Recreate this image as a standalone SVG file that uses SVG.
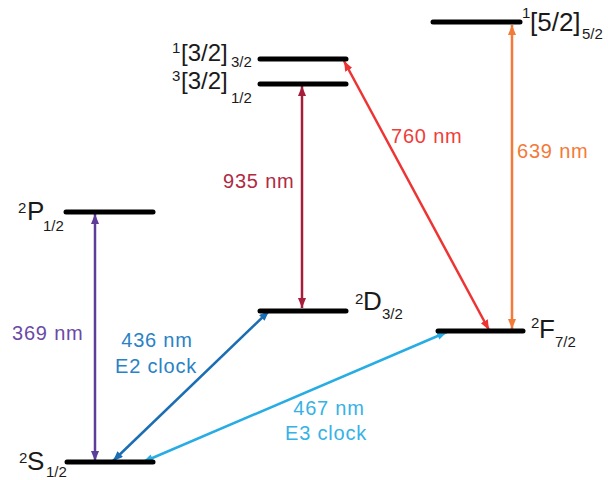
<svg xmlns="http://www.w3.org/2000/svg" width="608" height="480" viewBox="0 0 608 480">
<style>
.lvl{stroke:#000;stroke-width:5;stroke-linecap:round;fill:none}
.lbl{font-family:"Liberation Sans",Arial,sans-serif;fill:#1a1a1a}
.main{font-size:26px}
.mid{font-size:24px}
.sm{font-size:15px}
.wl{font-family:"Liberation Sans",Arial,sans-serif;font-size:20px;letter-spacing:0.8px}
.ar{stroke-width:2.5;fill:none}
</style>
<defs>
<marker id="mPurple" viewBox="0 0 10 8" refX="10" refY="4" markerWidth="10" markerHeight="8" markerUnits="userSpaceOnUse" orient="auto-start-reverse"><path d="M0,0 L10,4 L0,8 z" fill="#5e3c99"/></marker>
<marker id="mDark" viewBox="0 0 10 8" refX="10" refY="4" markerWidth="10" markerHeight="8" markerUnits="userSpaceOnUse" orient="auto-start-reverse"><path d="M0,0 L10,4 L0,8 z" fill="#a51f3b"/></marker>
<marker id="mRed" viewBox="0 0 10 8" refX="10" refY="4" markerWidth="10" markerHeight="8" markerUnits="userSpaceOnUse" orient="auto-start-reverse"><path d="M0,0 L10,4 L0,8 z" fill="#ee3333"/></marker>
<marker id="mOrange" viewBox="0 0 10 8" refX="10" refY="4" markerWidth="10" markerHeight="8" markerUnits="userSpaceOnUse" orient="auto-start-reverse"><path d="M0,0 L10,4 L0,8 z" fill="#f37a38"/></marker>
<marker id="mBlue" viewBox="0 0 10 8" refX="10" refY="4" markerWidth="10" markerHeight="8" markerUnits="userSpaceOnUse" orient="auto-start-reverse"><path d="M0,0 L10,4 L0,8 z" fill="#1b6db4"/></marker>
<marker id="mLight" viewBox="0 0 10 8" refX="10" refY="4" markerWidth="10" markerHeight="8" markerUnits="userSpaceOnUse" orient="auto-start-reverse"><path d="M0,0 L10,4 L0,8 z" fill="#27ace3"/></marker>
</defs>

<g id="connectors">
<line class="ar" x1="95" y1="214" x2="95" y2="461" stroke="#5e3c99" marker-start="url(#mPurple)" marker-end="url(#mPurple)"/>
<line class="ar" x1="302" y1="86" x2="302" y2="308" stroke="#a51f3b" marker-start="url(#mDark)" marker-end="url(#mDark)"/>
<line class="ar" x1="344" y1="61" x2="489" y2="330" stroke="#ee3333" marker-start="url(#mRed)" marker-end="url(#mRed)"/>
<line class="ar" x1="512" y1="25" x2="512" y2="329" stroke="#f37a38" marker-start="url(#mOrange)" marker-end="url(#mOrange)"/>
<line class="ar" x1="113" y1="461" x2="269" y2="311" stroke="#1b6db4" marker-start="url(#mBlue)" marker-end="url(#mBlue)"/>
<line class="ar" x1="143" y1="462" x2="447" y2="332" stroke="#27ace3" marker-start="url(#mLight)" marker-end="url(#mLight)"/>
<text class="wl" x="12" y="340" fill="#6a4aa6">369 nm</text>
<text class="wl" x="223" y="188" fill="#b02a43">935 nm</text>
<text class="wl" x="391" y="143" fill="#ef3d3a">760 nm</text>
<text class="wl" x="517" y="158" fill="#f37a38">639 nm</text>
<text class="wl" x="157" y="347" fill="#2a82c6" text-anchor="middle">436 nm</text>
<text class="wl" x="156" y="373" fill="#2a82c6" text-anchor="middle">E2 clock</text>
<text class="wl" x="329" y="415" fill="#36b2e6" text-anchor="middle">467 nm</text>
<text class="wl" x="326" y="440" fill="#36b2e6" text-anchor="middle">E3 clock</text>
</g>

<g id="level-1-5-2">
<line class="lvl" x1="433" y1="22" x2="520" y2="22"/>
<text class="lbl"><tspan class="sm" x="522" y="18">1</tspan><tspan class="main" x="530" y="31">[5/2]</tspan><tspan class="sm" x="582" y="39">5/2</tspan></text>
</g>
<g id="level-1-3-2">
<line class="lvl" x1="260" y1="59" x2="346" y2="59"/>
<text class="lbl"><tspan class="sm" x="172" y="53">1</tspan><tspan class="mid" x="181" y="61">[3/2]</tspan><tspan class="sm" x="231" y="67">3/2</tspan></text>
</g>
<g id="level-3-3-2">
<line class="lvl" x1="260" y1="84" x2="346" y2="84"/>
<text class="lbl"><tspan class="sm" x="172" y="81">3</tspan><tspan class="mid" x="181" y="89">[3/2]</tspan><tspan class="sm" x="231" y="103">1/2</tspan></text>
</g>
<g id="level-2P">
<line class="lvl" x1="66" y1="212" x2="153" y2="212"/>
<text class="lbl"><tspan class="sm" x="18" y="213">2</tspan><tspan class="main" x="27" y="220">P</tspan><tspan class="sm" x="43" y="231">1/2</tspan></text>
</g>
<g id="level-2D">
<line class="lvl" x1="260" y1="311" x2="346" y2="311"/>
<text class="lbl"><tspan class="sm" x="355" y="304">2</tspan><tspan class="main" x="363" y="310">D</tspan><tspan class="sm" x="382" y="319">3/2</tspan></text>
</g>
<g id="level-2F">
<line class="lvl" x1="438" y1="331" x2="523" y2="331"/>
<text class="lbl"><tspan class="sm" x="531" y="328">2</tspan><tspan class="main" x="539" y="338">F</tspan><tspan class="sm" x="555" y="347">7/2</tspan></text>
</g>
<g id="level-2S">
<line class="lvl" x1="67" y1="462" x2="153" y2="462"/>
<text class="lbl"><tspan class="sm" x="19" y="463">2</tspan><tspan class="main" x="27" y="470">S</tspan><tspan class="sm" x="46" y="477">1/2</tspan></text>
</g>
</svg>
